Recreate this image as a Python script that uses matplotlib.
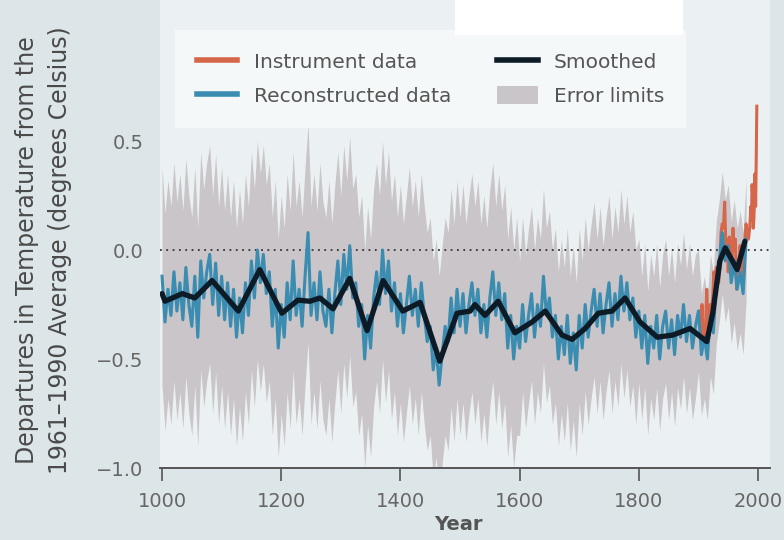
import numpy as np
import matplotlib
matplotlib.use("Agg")
import matplotlib.pyplot as plt
from matplotlib.lines import Line2D
from matplotlib.patches import Patch, Rectangle

recon_years = np.arange(1000, 1981, 5)
recon = np.array([
    -0.12, -0.33, -0.18, -0.30, -0.10, -0.28, -0.15, -0.32, -0.08, -0.25,
    -0.35, -0.12, -0.40, -0.05, -0.22, -0.10, -0.02, -0.25, -0.06, -0.30,   # 1000s
    -0.12, -0.32, -0.15, -0.35, -0.18, -0.40, -0.22, -0.38, -0.15, -0.30,
    -0.05, -0.22, 0.00, -0.15, -0.02, -0.20, -0.10, -0.35, -0.18, -0.45,    # 1100s
    -0.25, -0.40, -0.15, -0.32, -0.05, -0.30, -0.18, -0.35, -0.12, 0.08,
    -0.30, -0.15, -0.32, -0.10, -0.28, -0.35, -0.18, -0.38, -0.20, -0.05,   # 1200s
    -0.25, -0.02, -0.18, 0.02, -0.22, -0.15, -0.35, -0.25, -0.50, -0.30,
    -0.45, -0.22, -0.10, -0.25, 0.00, -0.20, -0.05, -0.28, -0.15, -0.35,    # 1300s
    -0.20, -0.38, -0.25, -0.12, -0.30, -0.18, -0.35, -0.15, -0.30, -0.42,
    -0.35, -0.55, -0.45, -0.62, -0.48, -0.35, -0.42, -0.22, -0.38, -0.18,   # 1400s
    -0.35, -0.20, -0.38, -0.25, -0.15, -0.30, -0.18, -0.38, -0.25, -0.40,
    -0.22, -0.10, -0.30, -0.15, -0.32, -0.20, -0.45, -0.30, -0.50, -0.35,   # 1500s
    -0.45, -0.25, -0.42, -0.30, -0.20, -0.40, -0.25, -0.35, -0.12, -0.30,
    -0.22, -0.40, -0.30, -0.50, -0.35, -0.48, -0.30, -0.52, -0.38, -0.55,   # 1600s
    -0.30, -0.45, -0.25, -0.40, -0.28, -0.18, -0.35, -0.20, -0.38, -0.25,
    -0.15, -0.35, -0.20, -0.32, -0.12, -0.28, -0.15, -0.32, -0.22, -0.40,   # 1700s
    -0.28, -0.45, -0.30, -0.52, -0.35, -0.45, -0.30, -0.50, -0.35, -0.28,
    -0.45, -0.32, -0.48, -0.30, -0.40, -0.25, -0.42, -0.30, -0.45, -0.35,   # 1800s
    -0.28, -0.48, -0.40, -0.50, -0.30, -0.38, -0.15, -0.05, 0.08, -0.05,
    0.02, -0.15, -0.05, -0.18, -0.10, -0.20, 0.05,                          # 1900-1980
])

# half-width of the error limits, by period start
err_start = [1000, 1600, 1800, 1900]
err_size = [0.50, 0.40, 0.33, 0.28]

# instrument record
instr_years = list(range(1902, 1989, 2)) + list(range(1989, 1999))
instr = [
    -0.28, -0.38, -0.25, -0.42, -0.40, -0.35, -0.18, -0.35, -0.32, -0.25,
    -0.28, -0.22, -0.10, -0.18, -0.08, -0.12, -0.15, -0.08, 0.08, 0.12,
    0.10, 0.22, 0.02, 0.05, -0.10, 0.06, -0.08, -0.12, 0.10, 0.00,
    0.05, -0.18, -0.05, -0.08, 0.02, -0.08, -0.10, -0.12, 0.05, 0.12,
    0.08, 0.05, 0.10, 0.20,
    0.15, 0.30, 0.25, 0.10, 0.14, 0.22, 0.35, 0.20, 0.42, 0.66,
]

# smoothed curve
smooth_years = [1000, 1005, 1034, 1055, 1084, 1128, 1164, 1201, 1228, 1248,
                1265, 1287, 1315, 1344, 1371, 1404, 1433, 1466, 1495, 1517,
                1525, 1542, 1564, 1592, 1621, 1643, 1671, 1688, 1710, 1732,
                1755, 1777, 1802, 1831, 1857, 1886, 1914, 1924, 1936, 1945,
                1965, 1978]
smooth = [-0.20, -0.235, -0.20, -0.22, -0.14, -0.28, -0.09, -0.29, -0.23, -0.235,
          -0.22, -0.27, -0.13, -0.37, -0.14, -0.28, -0.24, -0.51, -0.29, -0.28,
          -0.25, -0.30, -0.235, -0.38, -0.33, -0.28, -0.39, -0.41, -0.36, -0.29,
          -0.28, -0.22, -0.33, -0.40, -0.39, -0.36, -0.42, -0.29, -0.05, 0.01,
          -0.09, 0.04]

xtick_vals = [1000, 1200, 1400, 1600, 1800, 2000]
ytick_vals = [0.5, 0.0, -0.5, -1.0]
ytick_labels = ["0.5", "0.0", "\u22120.5", "\u22121.0"]

RED = "#d6664a"
BLUE = "#3a8cb0"
DARK = "#0d1b27"
GRAY = "#c9c5c8"
TXT = "#555555"

err = np.array(err_size)[np.searchsorted(err_start, recon_years, side="right") - 1]

fig = plt.figure(figsize=(7.84, 5.4), dpi=100, facecolor="#dce5e8")
ax = fig.add_axes([160 / 784, 1 - 468 / 540, 610 / 784, 468 / 540])
ax.set_facecolor("#ebf1f2")

ax.fill_between(recon_years, recon - err, recon + err, color=GRAY, lw=0, zorder=1)
ax.axhline(0, color="#333333", lw=1.3, ls=(0, (1, 2.5)), zorder=2)
ax.plot(instr_years, instr, color=RED, lw=2.2, zorder=3)
ax.plot(recon_years, recon, color=BLUE, lw=2.2, zorder=4)
ax.plot(smooth_years, smooth, color=DARK, lw=3.8, solid_joinstyle="round",
        solid_capstyle="round", zorder=5)

ax.set_xlim(996.6, 2020.1)
ax.set_ylim(-1.0, 1.147)
ax.set_xticks(xtick_vals)
ax.set_xticklabels([str(v) for v in xtick_vals])
ax.set_yticks(ytick_vals)
ax.set_yticklabels(ytick_labels)
ax.tick_params(axis="x", direction="out", length=9, width=1.2, color=TXT,
               labelsize=14, labelcolor="#666666", pad=8)
ax.tick_params(axis="y", length=0, labelsize=14, labelcolor="#666666", pad=12)
for s in ("top", "right", "left"):
    ax.spines[s].set_visible(False)
ax.spines["bottom"].set_color(TXT)
ax.spines["bottom"].set_linewidth(1.4)

handles = [Line2D([], [], color=RED, lw=4),
           Line2D([], [], color=BLUE, lw=4),
           Line2D([], [], color=DARK, lw=4),
           Patch(facecolor=GRAY, edgecolor="none")]
labels = ["Instrument data", "Reconstructed data", "Smoothed", "Error limits"]
leg = ax.legend(handles, labels, ncol=2, loc="upper left",
                bbox_to_anchor=(15 / 610, (468 - 30) / 468), borderaxespad=0,
                frameon=True, fancybox=False, facecolor="#f5f8f8", edgecolor="none",
                framealpha=1, fontsize=14.5, handlelength=2.0, handleheight=1.0,
                labelspacing=0.7, columnspacing=2.3, borderpad=1.1)
for t in leg.get_texts():
    t.set_color(TXT)
leg.set_zorder(6)

fig.text(27 / 784, 1 - 250 / 540, "Departures in Temperature from the",
         rotation=90, ha="center", va="center", fontsize=17, color="#4a4a4a")
fig.text(60 / 784, 1 - 250 / 540, "1961\u20131990 Average (degrees Celsius)",
         rotation=90, ha="center", va="center", fontsize=17, color="#4a4a4a")
fig.text(458 / 784, 1 - 524 / 540, "Year", ha="center", va="center",
         fontsize=14, fontweight="bold", color=TXT)

fig.add_artist(Rectangle((455 / 784, 1 - 35 / 540), 228 / 784, 35 / 540,
                         transform=fig.transFigure, facecolor="white",
                         edgecolor="none", zorder=10))

fig.savefig("out.png", dpi=100, facecolor=fig.get_facecolor())
